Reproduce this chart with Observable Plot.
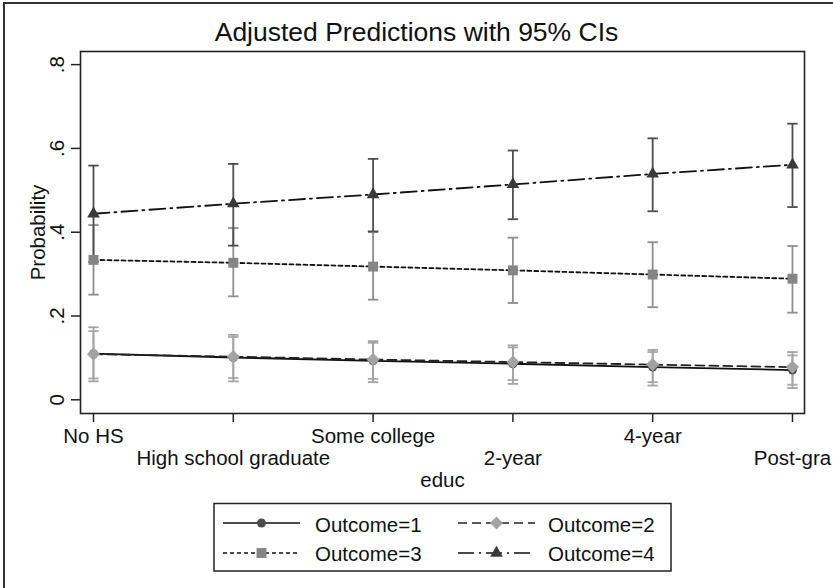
<!DOCTYPE html>
<html>
<head>
<meta charset="utf-8">
<script src="https://cdn.jsdelivr.net/npm/d3@7"></script>
<script src="https://cdn.jsdelivr.net/npm/@observablehq/plot@0.6"></script>
<style>
  html, body { margin: 0; padding: 0; background: #fff; }
  #wrap { position: relative; width: 833px; height: 588px; overflow: hidden; font-family: "Liberation Sans", Arial, sans-serif; color: #111; }
  #frame { position: absolute; left: 3px; top: 2px; width: 840px; height: 600px; border-left: 2px solid #333; border-top: 2px solid #333; }
  #title { position: absolute; left: 0; top: 19px; width: 833px; text-align: center; font-size: 26.5px; line-height: 26px; }
  #plot { position: absolute; left: 0; top: 0; }
  #legend { position: absolute; left: 0; top: 500px; }
</style>
</head>
<body>
<div id="wrap">
  <div id="frame"></div>
  <div id="plot"></div>
  <div id="title">Adjusted Predictions with 95% CIs</div>
  <div id="legend"></div>
</div>
<script>
// ---- data ----
const educLabels = ["No HS", "High school graduate", "Some college", "2-year", "4-year", "Post-gra"];
const outcomes = ["Outcome=1", "Outcome=2", "Outcome=3", "Outcome=4"];
const yTicks = [0, 0.2, 0.4, 0.6, 0.8];

const p1  = [0.110, 0.101, 0.093, 0.086, 0.078, 0.071];
const lo1 = [0.051, 0.052, 0.050, 0.047, 0.042, 0.036];
const hi1 = [0.164, 0.150, 0.136, 0.125, 0.114, 0.106];

const p2  = [0.109, 0.103, 0.096, 0.090, 0.084, 0.078];
const lo2 = [0.044, 0.044, 0.042, 0.038, 0.034, 0.028];
const hi2 = [0.173, 0.155, 0.140, 0.130, 0.119, 0.114];

const p3  = [0.334, 0.327, 0.318, 0.309, 0.299, 0.289];
const lo3 = [0.251, 0.247, 0.239, 0.231, 0.221, 0.208];
const hi3 = [0.417, 0.410, 0.400, 0.387, 0.376, 0.367];

const p4  = [0.444, 0.468, 0.490, 0.514, 0.539, 0.561];
const lo4 = [0.329, 0.368, 0.402, 0.431, 0.450, 0.460];
const hi4 = [0.559, 0.563, 0.575, 0.595, 0.624, 0.659];

// ---- styles ----
const styles = [
  {symbol: "circle",   r: 4.5, fill: "#4d4d4d", ci: "#a8a8a8", line: "#111", dash: null},
  {symbol: "diamond2", r: 5.9, fill: "#a3a3a3", ci: "#a3a3a3", line: "#222", dash: "9,5"},
  {symbol: "square",   r: 5.6, fill: "#858585", ci: "#8e8e8e", line: "#111", dash: "4,3"},
  {symbol: "triangle", r: 4.7, fill: "#3a3a3a", ci: "#4d4d4d", line: "#111", dash: "16,5,2,5"}
];

const series = [[p1, lo1, hi1], [p2, lo2, hi2], [p3, lo3, hi3], [p4, lo4, hi4]];
const tables = series.map(([p, lo, hi], k) =>
  educLabels.map((e, i) => ({outcome: outcomes[k], x: i + 1, p: p[i], lo: lo[i], hi: hi[i]})));

const capSymbol = {draw(ctx) { ctx.moveTo(-5.2, 0); ctx.lineTo(5.2, 0); }};
const fmtY = d => d === 0 ? "0" : String(d).replace(/^0/, "");
const FS = 20.5;

const marks = [];
// confidence intervals
tables.forEach((t, k) => {
  const s = styles[k];
  marks.push(Plot.ruleX(t, {x: "x", y1: "lo", y2: "hi", stroke: s.ci, strokeWidth: 1.8}));
  marks.push(Plot.dot(t, {x: "x", y: "lo", symbol: capSymbol, stroke: s.ci, fill: "none", strokeWidth: 1.8}));
  marks.push(Plot.dot(t, {x: "x", y: "hi", symbol: capSymbol, stroke: s.ci, fill: "none", strokeWidth: 1.8}));
});
// lines
tables.forEach((t, k) => {
  const s = styles[k];
  marks.push(Plot.line(t, {x: "x", y: "p", stroke: s.line, strokeWidth: 1.8, strokeDasharray: s.dash}));
});
// markers
tables.forEach((t, k) => {
  const s = styles[k];
  marks.push(Plot.dot(t, {x: "x", y: "p", symbol: s.symbol, r: s.r, fill: s.fill, stroke: "none"}));
});

const chart = Plot.plot({
  width: 833,
  height: 500,
  marginTop: 51,
  marginBottom: 87,
  marginLeft: 80,
  marginRight: 29,
  style: {fontFamily: "Liberation Sans, Arial, sans-serif", fontSize: FS + "px", background: "transparent", color: "#111", overflow: "visible"},
  x: {domain: [0.907, 6.086]},
  y: {domain: [-0.0327, 0.8313]},
  marks: [
    ...marks,
    Plot.frame({stroke: "#222", strokeWidth: 1.6}),
    Plot.axisY({ticks: yTicks, tickSize: 9, tickFormat: () => "", strokeWidth: 1.5, stroke: "#222", label: null}),
    Plot.text(yTicks, {y: d => d, text: fmtY, frameAnchor: "left", textAnchor: "middle", lineAnchor: "middle", dx: -23, rotate: -90, fontSize: FS, fill: "#111"}),
    Plot.axisX({ticks: [1, 3, 5], tickSize: 9, tickPadding: 6, tickFormat: i => educLabels[i - 1], fontSize: FS, fill: "#111", stroke: "#222", strokeWidth: 1.5, label: null}),
    Plot.axisX({ticks: [2, 4, 6], tickSize: 9, tickPadding: 28, tickFormat: i => educLabels[i - 1], fontSize: FS, fill: "#111", stroke: "#222", strokeWidth: 1.5, label: null}),
    Plot.text(["educ"], {text: d => d, frameAnchor: "bottom", lineAnchor: "middle", dy: 66.5, fontSize: FS, fill: "#111"}),
    Plot.text(["Probability"], {text: d => d, frameAnchor: "left", textAnchor: "middle", lineAnchor: "middle", dx: -42, rotate: -90, fontSize: FS, fill: "#111"})
  ]
});
document.getElementById("plot").appendChild(chart);

// ---- legend ----
const lg = d3.select("#legend").append("svg")
  .attr("width", 833).attr("height", 88)
  .style("font-family", "Liberation Sans, Arial, sans-serif");
lg.append("rect").attr("x", 214).attr("y", 3.5).attr("width", 457).attr("height", 67.5)
  .attr("fill", "none").attr("stroke", "#222").attr("stroke-width", 1.5);
const pos = [
  {x0: 223, x1: 300, tx: 315, cy: 23, by: 31.5},
  {x0: 458, x1: 535, tx: 548, cy: 23, by: 31.5},
  {x0: 223, x1: 300, tx: 315, cy: 53, by: 61},
  {x0: 458, x1: 535, tx: 548, cy: 53, by: 61}
];
const symMap = {circle: d3.symbolCircle, diamond2: d3.symbolDiamond2, square: d3.symbolSquare, triangle: d3.symbolTriangle};
outcomes.forEach((name, k) => {
  const s = styles[k], q = pos[k];
  const ln = lg.append("line").attr("x1", q.x0).attr("x2", q.x1).attr("y1", q.cy).attr("y2", q.cy)
    .attr("stroke", s.line).attr("stroke-width", 1.6);
  if (s.dash) ln.attr("stroke-dasharray", s.dash);
  lg.append("path").attr("d", d3.symbol(symMap[s.symbol], s.r * s.r * Math.PI)())
    .attr("transform", `translate(${(q.x0 + q.x1) / 2},${q.cy})`).attr("fill", s.fill);
  lg.append("text").attr("x", q.tx).attr("y", q.by).attr("font-size", FS).attr("fill", "#111").text(name);
});
</script>
</body>
</html>
